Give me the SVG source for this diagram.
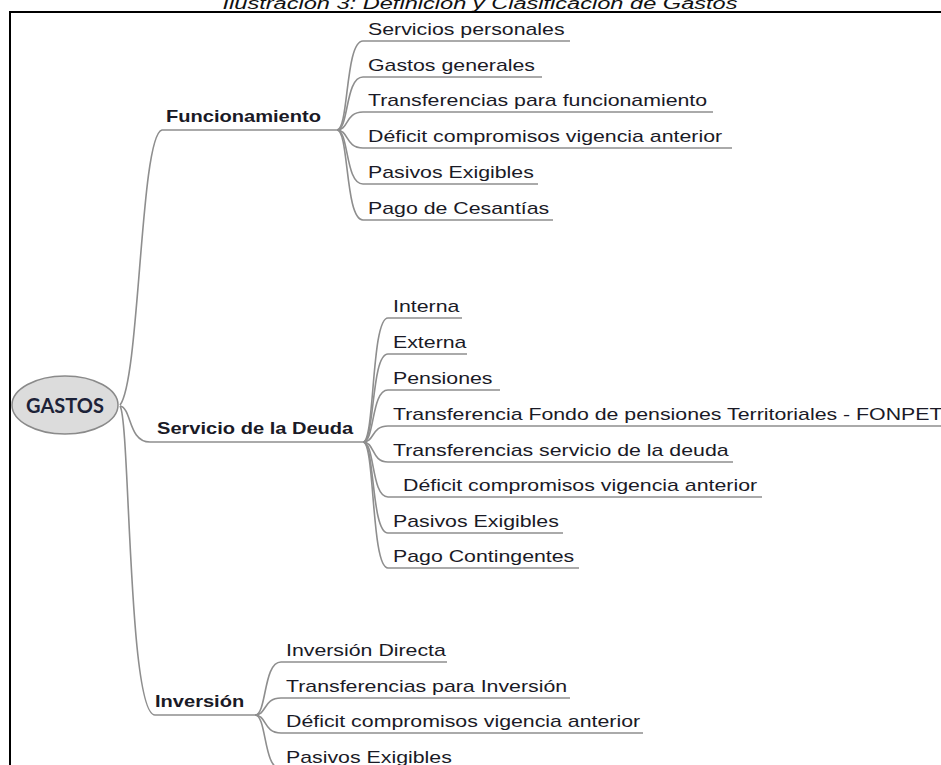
<svg xmlns="http://www.w3.org/2000/svg" width="941" height="765" viewBox="0 0 941 765">
<style>
.t{font-family:"Liberation Sans",Arial,sans-serif;font-size:17px;fill:#1a1a26}
.b{font-family:"Liberation Sans",Arial,sans-serif;font-size:16px;font-weight:bold;fill:#1a1a26}
.ln{fill:none;stroke:#8e8e8e;stroke-width:1.6}
</style>
<rect width="941" height="765" fill="#ffffff"/>
<text x="480" y="9" text-anchor="middle" textLength="515" lengthAdjust="spacingAndGlyphs" style="font-family:'Liberation Sans',Arial,sans-serif;font-size:16px;font-style:italic;fill:#111">Ilustración 3: Definición y Clasificación de Gastos</text>
<path d="M10,765 L10,12 L941,12" fill="none" stroke="#000" stroke-width="2"/>

<g id="connectors">
  <path class="ln" d="M120,405 C140,380 140,135 162,130 L337,130"/>
  <path class="ln" d="M120,406 C132,408 128,442 150,442 L363,442"/>
  <path class="ln" d="M120,406 C130,420 128,715 155,715 L255,715"/>
  <path class="ln" d="M337,130 C349,130 345,41 363,41 L570,41"/>
  <path class="ln" d="M337,130 C349,130 345,77 363,77 L542,77"/>
  <path class="ln" d="M337,130 C349,130 345,112 363,112 L713,112"/>
  <path class="ln" d="M337,130 C349,130 345,148 363,148 L732,148"/>
  <path class="ln" d="M337,130 C349,130 345,184 363,184 L538,184"/>
  <path class="ln" d="M337,130 C349,130 345,220 363,220 L553,220"/>
  <path class="ln" d="M363,442 C375,442 371,318 388,318 L462,318"/>
  <path class="ln" d="M363,442 C375,442 371,354 388,354 L467,354"/>
  <path class="ln" d="M363,442 C375,442 371,390 388,390 L500,390"/>
  <path class="ln" d="M363,442 C375,442 371,426 388,426 L941,426"/>
  <path class="ln" d="M363,442 C375,442 371,462 388,462 L733,462"/>
  <path class="ln" d="M363,442 C375,442 371,497 388,497 L762,497"/>
  <path class="ln" d="M363,442 C375,442 371,533 388,533 L563,533"/>
  <path class="ln" d="M363,442 C375,442 371,568 388,568 L579,568"/>
  <path class="ln" d="M255,715 C267,715 263,662 281,662 L447,662"/>
  <path class="ln" d="M255,715 C267,715 263,698 281,698 L570,698"/>
  <path class="ln" d="M255,715 C267,715 263,733 281,733 L643,733"/>
  <path class="ln" d="M255,715 C267,715 263,769 281,769 L500,769"/>
</g>

<g id="gastos">
  <ellipse cx="65" cy="405" rx="53" ry="29" fill="#dcdcdc" stroke="#8a8a8a" stroke-width="1.5"/>
  <text x="65" y="413" text-anchor="middle" style="font-family:Lato,'Liberation Sans',sans-serif;font-size:20px;font-weight:bold;fill:#1c2238">GASTOS</text>
</g>

<g id="funcionamiento"><text class="b" transform="translate(166,122) scale(1.255,1)">Funcionamiento</text></g>
<g id="servicio-deuda"><text class="b" transform="translate(157,434) scale(1.255,1)">Servicio de la Deuda</text></g>
<g id="inversion"><text class="b" transform="translate(155,707) scale(1.255,1)">Inversión</text></g>

<g id="f1"><text class="t" transform="translate(368,35) scale(1.255,1)">Servicios personales</text></g>
<g id="f2"><text class="t" transform="translate(368,71) scale(1.255,1)">Gastos generales</text></g>
<g id="f3"><text class="t" transform="translate(368,106) scale(1.255,1)">Transferencias para funcionamiento</text></g>
<g id="f4"><text class="t" transform="translate(368,142) scale(1.255,1)">Déficit compromisos vigencia anterior</text></g>
<g id="f5"><text class="t" transform="translate(368,178) scale(1.255,1)">Pasivos Exigibles</text></g>
<g id="f6"><text class="t" transform="translate(368,214) scale(1.255,1)">Pago de Cesantías</text></g>

<g id="d1"><text class="t" transform="translate(393,312) scale(1.255,1)">Interna</text></g>
<g id="d2"><text class="t" transform="translate(393,348) scale(1.255,1)">Externa</text></g>
<g id="d3"><text class="t" transform="translate(393,384) scale(1.255,1)">Pensiones</text></g>
<g id="d4"><text class="t" transform="translate(393,420) scale(1.255,1)">Transferencia Fondo de pensiones Territoriales - FONPET</text></g>
<g id="d5"><text class="t" transform="translate(393,456) scale(1.255,1)">Transferencias servicio de la deuda</text></g>
<g id="d6"><text class="t" transform="translate(403,491) scale(1.255,1)">Déficit compromisos vigencia anterior</text></g>
<g id="d7"><text class="t" transform="translate(393,527) scale(1.255,1)">Pasivos Exigibles</text></g>
<g id="d8"><text class="t" transform="translate(393,562) scale(1.255,1)">Pago Contingentes</text></g>

<g id="i1"><text class="t" transform="translate(286,656) scale(1.255,1)">Inversión Directa</text></g>
<g id="i2"><text class="t" transform="translate(286,692) scale(1.255,1)">Transferencias para Inversión</text></g>
<g id="i3"><text class="t" transform="translate(286,727) scale(1.255,1)">Déficit compromisos vigencia anterior</text></g>
<g id="i4"><text class="t" transform="translate(286,763) scale(1.255,1)">Pasivos Exigibles</text></g>
</svg>
